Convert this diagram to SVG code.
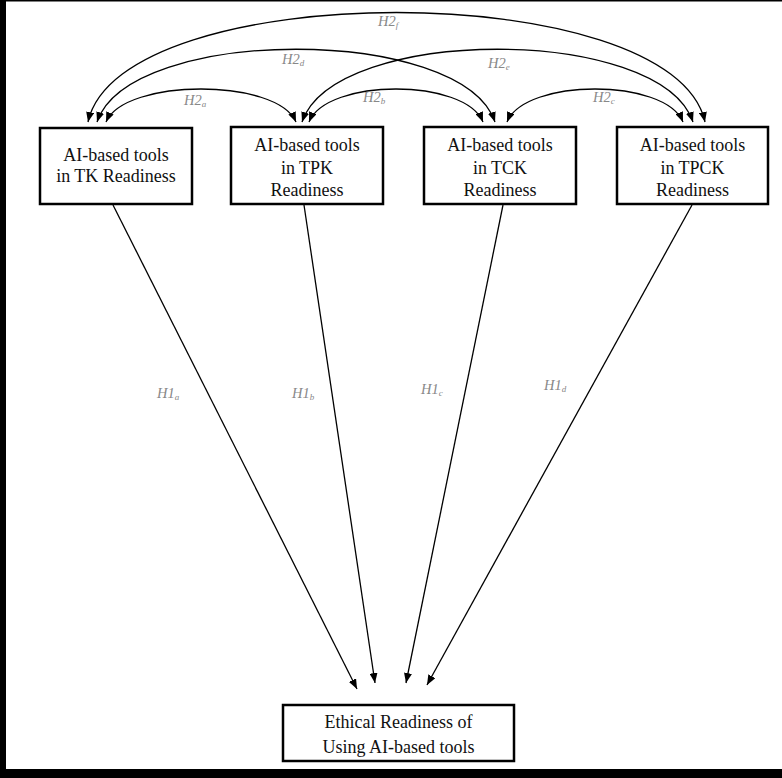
<svg xmlns="http://www.w3.org/2000/svg" width="782" height="778" viewBox="0 0 782 778">
<defs>
<marker id="ah" viewBox="0 0 10 8" refX="10" refY="4" markerWidth="10" markerHeight="8" markerUnits="userSpaceOnUse" orient="auto-start-reverse">
<path d="M0,0 L10,4 L0,8 Z" fill="#000"/>
</marker>
<style>
.box{fill:#fff;stroke:#000;stroke-width:2.5}
.t{font-family:"Liberation Serif","Times New Roman",serif;font-size:18px;fill:#111;text-anchor:middle}
.lab{font-family:"Liberation Serif","Times New Roman",serif;font-style:italic;font-size:14.5px;fill:#888}
.sub{font-size:9px}
.c{fill:none;stroke:#000;stroke-width:1.3;marker-end:url(#ah)}
.c2{fill:none;stroke:#000;stroke-width:1.3;marker-start:url(#ah);marker-end:url(#ah)}
</style>
</defs>
<rect x="0" y="0" width="782" height="778" fill="#fff"/>
<rect x="0" y="0" width="6" height="778" fill="#000"/>
<rect x="0" y="0" width="782" height="1.5" fill="#000"/>
<rect x="0" y="769" width="782" height="9" fill="#000"/>

<g id="connectors">
<path class="c2" d="M106,122 C125,78 277,78 296,122"/>
<path class="c2" d="M309,122 C327,78 465,78 483,122"/>
<path class="c2" d="M507,122 C525,78 665,78 683,122"/>
<path class="c2" d="M97,122 C130,25 462,25 495,122"/>
<path class="c2" d="M302,122 C335,25 660,25 693,122"/>
<path class="c2" d="M88,122 C120,-24 673,-24 705,122"/>
<path class="c" d="M113,205 L357,689"/>
<path class="c" d="M304,205 L375,683"/>
<path class="c" d="M503,205 L406,683"/>
<path class="c" d="M692,205 L427,685"/>
<text class="lab" x="184" y="105">H2<tspan class="sub" dy="2">a</tspan></text>
<text class="lab" x="363" y="102">H2<tspan class="sub" dy="2">b</tspan></text>
<text class="lab" x="593" y="102">H2<tspan class="sub" dy="2">c</tspan></text>
<text class="lab" x="282" y="64">H2<tspan class="sub" dy="2">d</tspan></text>
<text class="lab" x="488" y="68">H2<tspan class="sub" dy="2">e</tspan></text>
<text class="lab" x="378" y="26">H2<tspan class="sub" dy="2">f</tspan></text>
<text class="lab" x="157" y="398">H1<tspan class="sub" dy="2">a</tspan></text>
<text class="lab" x="292" y="398">H1<tspan class="sub" dy="2">b</tspan></text>
<text class="lab" x="421" y="394">H1<tspan class="sub" dy="2">c</tspan></text>
<text class="lab" x="544" y="390">H1<tspan class="sub" dy="2">d</tspan></text>
</g>

<g id="tk">
<rect class="box" x="40" y="128" width="152" height="76"/>
<text class="t" x="116" y="161">AI-based tools</text>
<text class="t" x="116" y="182">in TK Readiness</text>
</g>
<g id="tpk">
<rect class="box" x="231" y="127" width="152" height="77"/>
<text class="t" x="307" y="151">AI-based tools</text>
<text class="t" x="307" y="174">in TPK</text>
<text class="t" x="307" y="196">Readiness</text>
</g>
<g id="tck">
<rect class="box" x="424" y="127" width="152" height="77"/>
<text class="t" x="500" y="151">AI-based tools</text>
<text class="t" x="500" y="174">in TCK</text>
<text class="t" x="500" y="196">Readiness</text>
</g>
<g id="tpck">
<rect class="box" x="617" y="127" width="151" height="77"/>
<text class="t" x="692.5" y="151">AI-based tools</text>
<text class="t" x="692.5" y="174">in TPCK</text>
<text class="t" x="692.5" y="196">Readiness</text>
</g>
<g id="ethical">
<rect class="box" x="283" y="705" width="231" height="56"/>
<text class="t" x="398.5" y="728">Ethical Readiness of</text>
<text class="t" x="398.5" y="753">Using AI-based tools</text>
</g>
</svg>
